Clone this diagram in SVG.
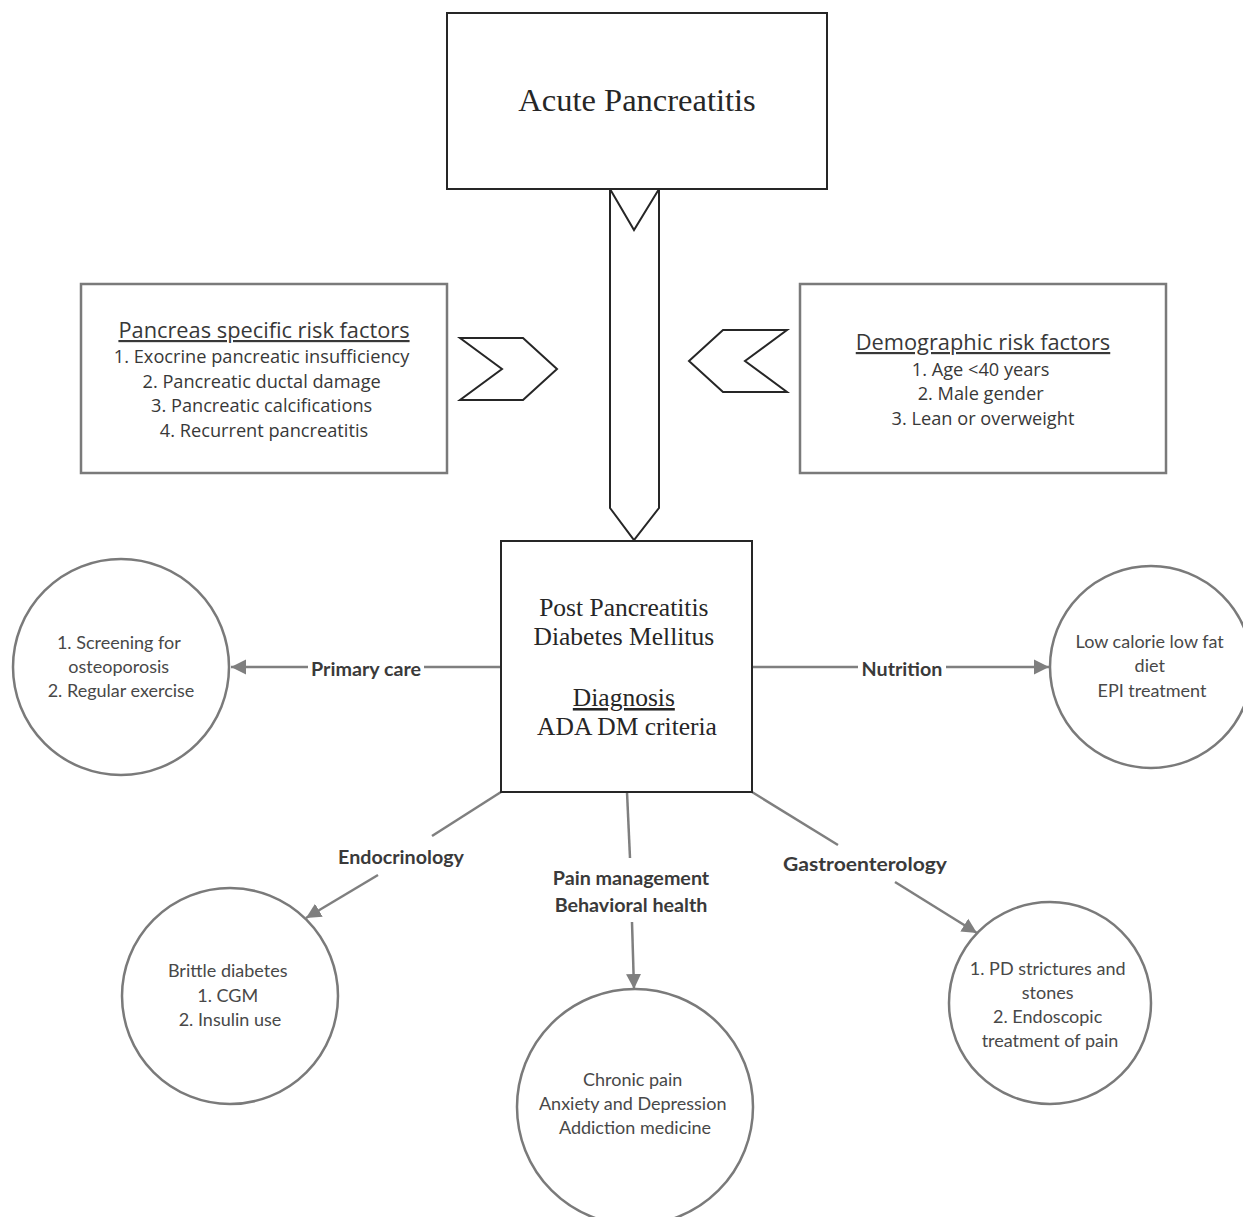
<svg xmlns="http://www.w3.org/2000/svg" width="1243" height="1217" viewBox="0 0 1243 1217">
<style>
.dark{fill:#fff;stroke:#262626;stroke-width:2}
.grey{fill:#fff;stroke:#7a7a7a;stroke-width:2.5}
.conn{fill:none;stroke:#7f7f7f;stroke-width:2.5}
.serif{font-family:"Liberation Serif","Times New Roman",serif;fill:#262626;text-anchor:middle}
.osans{font-family:"Open Sans","Noto Sans",sans-serif;fill:#383838;text-anchor:middle}
.lato{font-family:Lato,"Liberation Sans",sans-serif;fill:#484848;text-anchor:middle;font-size:18px}
.lbl{font-family:Lato,"Liberation Sans",sans-serif;fill:#3a3a3a;text-anchor:middle;font-size:19.7px;font-weight:bold}
</style>
<defs>
<marker id="ah" viewBox="0 0 10 10" refX="10" refY="5" markerWidth="6" markerHeight="7" markerUnits="strokeWidth" orient="auto">
<path d="M0,0 L10,5 L0,10 Z" fill="#7f7f7f"/>
</marker>
</defs>
<rect width="1243" height="1217" fill="#fff"/>

<g id="connectors">
<polygon id="down-arrow" class="dark" points="610,189 634,230 659,189 659,508 634,540 610,508"/>
<polygon id="left-chevron" class="dark" points="460,338 523,338 557,369 523,400 460,400 502,369"/>
<polygon id="right-chevron" class="dark" points="787,330 723,330 689,361 723,392 787,392 745,361"/>
<line class="conn" x1="501" y1="667" x2="424" y2="667"/>
<line class="conn" x1="308" y1="667" x2="231" y2="667" marker-end="url(#ah)"/>
<line class="conn" x1="752" y1="667" x2="858" y2="667"/>
<line class="conn" x1="946" y1="667" x2="1049" y2="667" marker-end="url(#ah)"/>
<line class="conn" x1="501" y1="792" x2="432" y2="836"/>
<line class="conn" x1="378" y1="875" x2="306" y2="918" marker-end="url(#ah)"/>
<line class="conn" x1="627" y1="792" x2="630" y2="858"/>
<line class="conn" x1="632" y1="922" x2="634" y2="989" marker-end="url(#ah)"/>
<line class="conn" x1="752" y1="792" x2="838" y2="845"/>
<line class="conn" x1="895" y1="882" x2="977" y2="933" marker-end="url(#ah)"/>
<text class="lbl" x="366" y="676">Primary care</text>
<text class="lbl" x="902" y="676">Nutrition</text>
<text class="lbl" x="401" y="864">Endocrinology</text>
<text class="lbl" x="631" y="885">Pain management</text>
<text class="lbl" x="631" y="912">Behavioral health</text>
<text class="lbl" x="865" y="871" textLength="164" lengthAdjust="spacingAndGlyphs">Gastroenterology</text>
</g>

<g id="acute-pancreatitis">
<rect class="dark" x="447" y="13" width="380" height="176"/>
<text class="serif" x="637" y="111" font-size="32.5">Acute Pancreatitis</text>
</g>

<g id="pancreas-risk">
<rect class="grey" x="81" y="284" width="366" height="189"/>
<text class="osans" x="264" y="338" font-size="21.8" text-decoration="underline">Pancreas specific risk factors</text>
<text class="osans" font-size="18.2">
<tspan x="264" y="363">1. Exocrine pancreatic insufficiency</tspan>
<tspan x="264" y="388">2. Pancreatic ductal damage</tspan>
<tspan x="264" y="412">3. Pancreatic calcifications</tspan>
<tspan x="264" y="437">4. Recurrent pancreatitis</tspan>
</text>
</g>

<g id="demographic-risk">
<rect class="grey" x="800" y="284" width="366" height="189"/>
<text class="osans" x="983" y="350" font-size="21.8" text-decoration="underline">Demographic risk factors</text>
<text class="osans" font-size="18.2">
<tspan x="983" y="376">1. Age &lt;40 years</tspan>
<tspan x="983" y="400">2. Male gender</tspan>
<tspan x="983" y="425">3. Lean or overweight</tspan>
</text>
</g>

<g id="ppdm">
<rect class="dark" x="501" y="541" width="251" height="251"/>
<text class="serif" font-size="25.5">
<tspan x="627" y="616">Post Pancreatitis</tspan>
<tspan x="627" y="645">Diabetes Mellitus</tspan>
<tspan x="627" y="706" text-decoration="underline">Diagnosis</tspan>
<tspan x="627" y="735">ADA DM criteria</tspan>
</text>
</g>

<g id="primary-care">
<circle class="grey" cx="121" cy="667" r="108"/>
<text class="lato">
<tspan x="121" y="649">1. Screening for</tspan>
<tspan x="121" y="673">osteoporosis</tspan>
<tspan x="121" y="697">2. Regular exercise</tspan>
</text>
</g>

<g id="nutrition">
<circle class="grey" cx="1151" cy="667" r="101"/>
<text class="lato">
<tspan x="1152" y="648">Low calorie low fat</tspan>
<tspan x="1152" y="672">diet</tspan>
<tspan x="1152" y="697">EPI treatment</tspan>
</text>
</g>

<g id="endocrinology">
<circle class="grey" cx="230" cy="996" r="108"/>
<text class="lato">
<tspan x="230" y="977">Brittle diabetes</tspan>
<tspan x="230" y="1002">1. CGM</tspan>
<tspan x="230" y="1026">2. Insulin use</tspan>
</text>
</g>

<g id="pain">
<circle class="grey" cx="635" cy="1107" r="118"/>
<text class="lato">
<tspan x="635" y="1086">Chronic pain</tspan>
<tspan x="635" y="1110">Anxiety and Depression</tspan>
<tspan x="635" y="1134">Addiction medicine</tspan>
</text>
</g>

<g id="gastro">
<circle class="grey" cx="1050" cy="1003" r="101"/>
<text class="lato">
<tspan x="1050" y="975">1. PD strictures and</tspan>
<tspan x="1050" y="999">stones</tspan>
<tspan x="1050" y="1023">2. Endoscopic</tspan>
<tspan x="1050" y="1047">treatment of pain</tspan>
</text>
</g>
</svg>
